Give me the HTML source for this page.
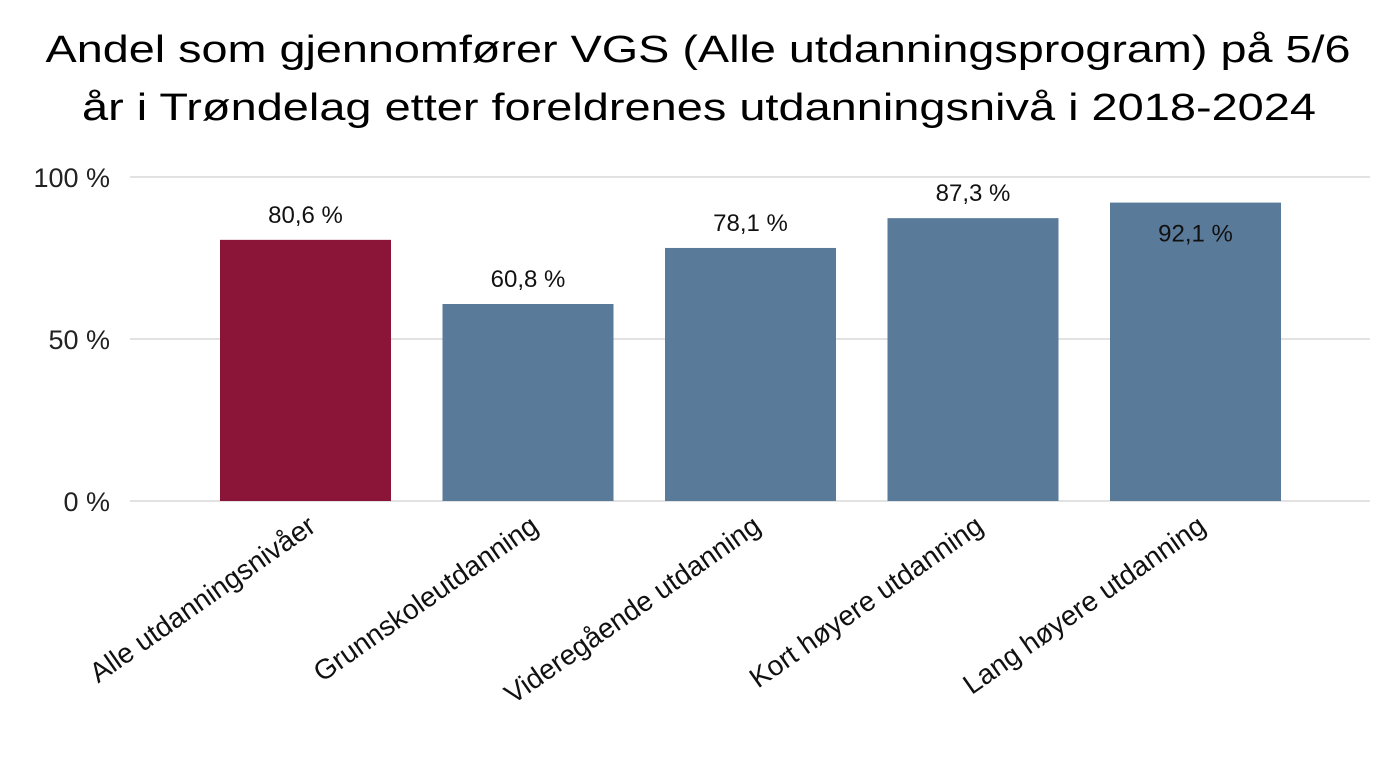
<!DOCTYPE html>
<html><head><meta charset="utf-8"><style>
html,body{margin:0;padding:0;background:#fff;}
svg{display:block;font-family:"Liberation Sans",sans-serif;}
</style></head><body>
<svg id="chart" width="1389" height="769" viewBox="0 0 1389 769">
<text x="698" y="62" font-size="38" text-anchor="middle" textLength="1305" lengthAdjust="spacingAndGlyphs" fill="#000">Andel som gjennomfører VGS (Alle utdanningsprogram) på 5/6</text>
<text x="699" y="120" font-size="38" text-anchor="middle" textLength="1234" lengthAdjust="spacingAndGlyphs" fill="#000">år i Trøndelag etter foreldrenes utdanningsnivå i 2018-2024</text>
<g id="grid"></g>
<g id="bars"></g>
<g id="labels"></g>
</svg>
<script>
const categories = ["Alle utdanningsnivåer","Grunnskoleutdanning","Videregående utdanning","Kort høyere utdanning","Lang høyere utdanning"];
const values = [80.6, 60.8, 78.1, 87.3, 92.1];
const valueLabels = ["80,6 %","60,8 %","78,1 %","87,3 %","92,1 %"];
const yTicks = [0, 50, 100];
const yTickLabels = ["0 %","50 %","100 %"];
const colors = ["#8a1538","#5a7a99","#5a7a99","#5a7a99","#5a7a99"];

const NS = "http://www.w3.org/2000/svg";
const y0 = 501, y100 = 177;
function yScale(v){ return y0 - (y0 - y100) * v / 100; }
function xCenter(i){ return 305.5 + i * 222.5; }
const barW = 171;
function mk(tag, attrs, parent){ const e = document.createElementNS(NS, tag); for (const k in attrs) e.setAttribute(k, attrs[k]); parent.appendChild(e); return e; }

const grid = document.getElementById('grid');
yTicks.forEach((t, i) => {
  const l = mk('line', {x1:130, x2:1370, y1:yScale(t), y2:yScale(t), stroke:'#d9d9d9', 'stroke-width':1.5}, grid);
  
  
  const tx = mk('text', {x:110, y:yScale(t)+10, 'font-size':27, 'text-anchor':'end', fill:'#222'}, grid);
  tx.textContent = yTickLabels[i];
  
  
});

const bars = document.getElementById('bars');
values.forEach((v, i) => {
  const top = yScale(v);
  const r = mk('rect', {x:xCenter(i)-barW/2, y:top, width:barW, height:y0-top, fill:colors[i]}, bars);
  
  
  let ly = top - 17;
  if (ly < 195) ly = top + 39;
  const t = mk('text', {x:xCenter(i), y:ly, 'font-size':24, 'text-anchor':'middle', fill:'#111'}, bars);
  t.textContent = valueLabels[i];
  
  
});

const labels = document.getElementById('labels');
categories.forEach((c, i) => {
  const x = xCenter(i) + 12, y = 530;
  const t = mk('text', {x:x, y:y, 'font-size':28, 'text-anchor':'end', fill:'#111', transform:'rotate(-35 ' + x + ' ' + y + ')'}, labels);
  t.textContent = c;
  
  
});
</script>
</body></html>
